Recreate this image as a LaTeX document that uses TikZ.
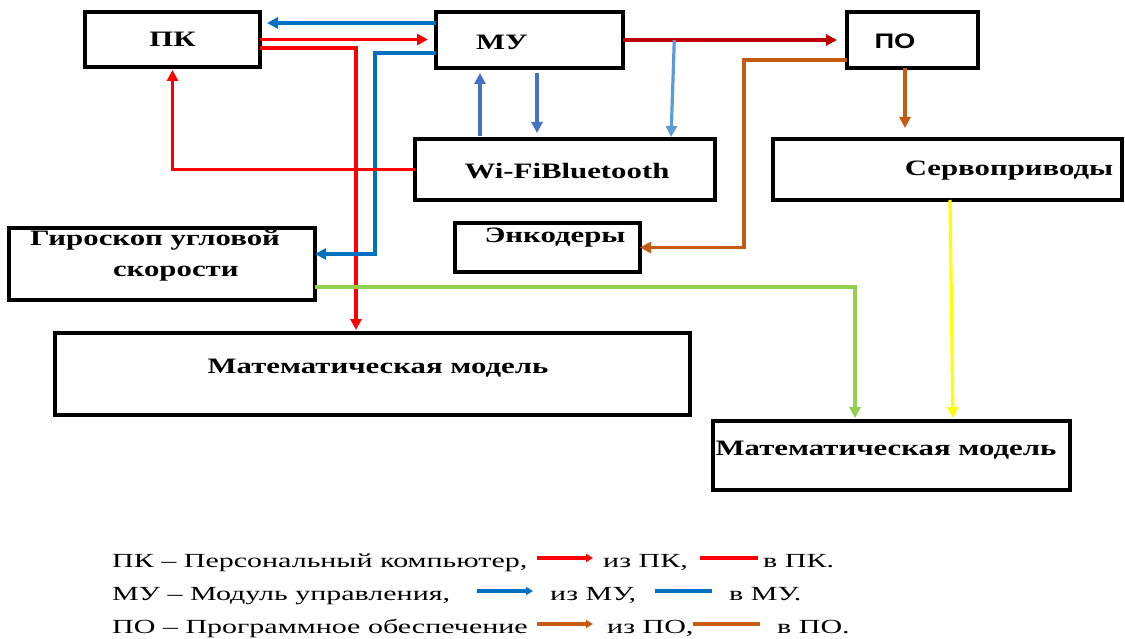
\documentclass[tikz,border=0pt]{standalone}
\usepackage{fontspec}
\setmainfont{Liberation Serif}[FakeStretch=1.4]
\newfontfamily\posans{Liberation Sans}[FakeStretch=1.3]
\newfontfamily\legfont{Liberation Serif}[FakeStretch=1.5]
\usetikzlibrary{positioning,arrows.meta}

\definecolor{pcred}{HTML}{FF0000}
\definecolor{mublue}{HTML}{0070C0}
\definecolor{wiblue}{HTML}{4472C4}
\definecolor{skyblue}{HTML}{5B9BD5}
\definecolor{mured}{HTML}{C00000}
\definecolor{poorange}{HTML}{C55A11}
\definecolor{gyrgreen}{HTML}{92D050}
\definecolor{srvyellow}{HTML}{FFFF00}

\begin{document}
\begin{tikzpicture}[
  x=1pt, y=-1pt,
  blk/.style={draw, line width=3.4pt, inner sep=0pt, outer sep=0pt},
  blktxt/.style={font=\fontsize{22}{31}\selectfont\bfseries, inner sep=0pt},
  link/.style={line width=3.2pt, -{Triangle[length=11pt,width=11pt]}},
  legtxt/.style={font=\legfont\fontsize{20}{24}\selectfont, anchor=base west, inner sep=0pt},
  legline/.style={line width=3.2pt}
]
\useasboundingbox (0,0) rectangle (1125,639);
% blocks
\node[blk, minimum width=175, minimum height=55, label={[blktxt]center:ПК}] (pk) at (172.5,39.5) {};
\node[blk, minimum width=187, minimum height=56, label={[blktxt, xshift=-27.5pt, yshift=-2pt]center:МУ}] (mu) at (529.5,40) {};
\node[blk, minimum width=131, minimum height=56, label={[blktxt, font=\posans\fontsize{21}{24}\selectfont\bfseries, xshift=-17.5pt, yshift=-1pt]center:ПО}] (po) at (912.5,40) {};
\node[blk, minimum width=300, minimum height=61, label={[blktxt, xshift=2pt, yshift=-1.5pt]center:Wi-FiBluetooth}] (wifi) at (565,169.5) {};
\node[blk, minimum width=349, minimum height=61, label={[blktxt, xshift=61.5pt, yshift=-1.5pt]center:Сервоприводы}] (servo) at (947.5,169.5) {};
\node[blk, minimum width=306, minimum height=72, label={[blktxt, align=left, xshift=-7pt, yshift=8pt]center:Гироскоп угловой\\\hspace*{83pt}скорости}] (gyro) at (162,264) {};
\node[blk, minimum width=185, minimum height=49, label={[blktxt, xshift=7.5pt, yshift=9.5pt]center:Энкодеры}] (enc) at (547.5,247.5) {};
\node[blk, minimum width=635, minimum height=82, label={[blktxt, xshift=5.5pt, yshift=6pt]center:Математическая модель}] (mm1) at (372.5,374) {};
\node[blk, minimum width=357, minimum height=69, label={[blktxt, xshift=-5.5pt, yshift=5.5pt]center:Математическая модель}] (mm2) at (891.5,455.5) {};
% bends
\coordinate (pcx) at (356,0);
\coordinate (mux) at (375,0);
\coordinate (gyin) at ([yshift=10pt]gyro.east);
\coordinate (pox) at (744,0);
% links
\draw[link, mublue, shorten >=7pt] ([yshift=17pt]mu.west) -- ([yshift=17pt]mu.west -| pk.east);
\draw[link, pcred, shorten >=8pt] (pk.east) -- (pk.east -| mu.west);
\draw[link, pcred, shorten >=3pt] ([yshift=-8.5pt]pk.east) -| (pcx |- mm1.north);
\draw[link, mublue] ([yshift=-13pt]mu.west) -| (mux |- gyin) -- (gyin);
\draw[link, pcred, shorten >=3pt] (wifi.west) -| (pk.south);
\draw[link, wiblue, shorten <=3pt, shorten >=5pt] ([xshift=-49.5pt]mu.south |- wifi.north) -- ([xshift=-49.5pt]mu.south);
\draw[link, wiblue, shorten <=5pt, shorten >=6pt] ([xshift=7.5pt]mu.south) -- ([xshift=7.5pt]mu.south |- wifi.north);
\draw[link, mured, shorten >=10pt] (mu.east) -- coordinate[pos=0.229] (mubr) (po.west);
\draw[link, skyblue, shorten >=2pt] (mubr) -- ([xshift=106pt]wifi.north);
\draw[link, poorange, shorten >=11pt] ([xshift=-7.5pt]po.south) -- ([xshift=-7.5pt]po.south |- servo.north);
\draw[link, poorange] ([yshift=-20pt]po.west) -| (pox |- enc.east) -- (enc.east);
\draw[link, gyrgreen, shorten >=3pt] ([yshift=-23pt]gyro.east) -| ([xshift=-36.5pt]mm2.north);
\draw[link, srvyellow, shorten >=3pt] ([xshift=2.5pt]servo.south) -- ([xshift=61.5pt]mm2.north);
% legend
\node[legtxt] (lpk) at (112,567) {ПК – Персональный компьютер,};
\node[legtxt] (lpkfrom) at (603,567) {из ПК,};
\node[legtxt] (lpkto) at (763,567) {в ПК.};
\node[legtxt] (lmu) at (112,600) {МУ – Модуль управления,};
\node[legtxt] (lmufrom) at (550,600) {из МУ,};
\node[legtxt] (lmuto) at (729,600) {в МУ.};
\node[legtxt] (lpo) at (112,633) {ПО – Программное обеспечение};
\node[legtxt] (lpofrom) at (607,633) {из ПО,};
\node[legtxt] (lpoto) at (777,633) {в ПО.};
\coordinate (pka) at (537,558); \coordinate (pkb) at (593,558);
\coordinate (pkc) at (700,558); \coordinate (pkd) at (758,558);
\coordinate (mua) at (477,591); \coordinate (mub) at (533,591);
\coordinate (muc) at (655,591); \coordinate (mud) at (712,591);
\coordinate (poa) at (537,624); \coordinate (pob) at (593,624);
\coordinate (poc) at (693,624); \coordinate (pod) at (760,624);
\draw[legline, pcred, -{Triangle[length=7pt,width=8pt]}] (pka) -- (pkb);
\draw[legline, pcred] (pkc) -- (pkd);
\draw[legline, mublue, -{Triangle[length=7pt,width=8pt]}] (mua) -- (mub);
\draw[legline, mublue] (muc) -- (mud);
\draw[legline, poorange, -{Triangle[length=7pt,width=8pt]}] (poa) -- (pob);
\draw[legline, poorange] (poc) -- (pod);
\end{tikzpicture}
\end{document}
